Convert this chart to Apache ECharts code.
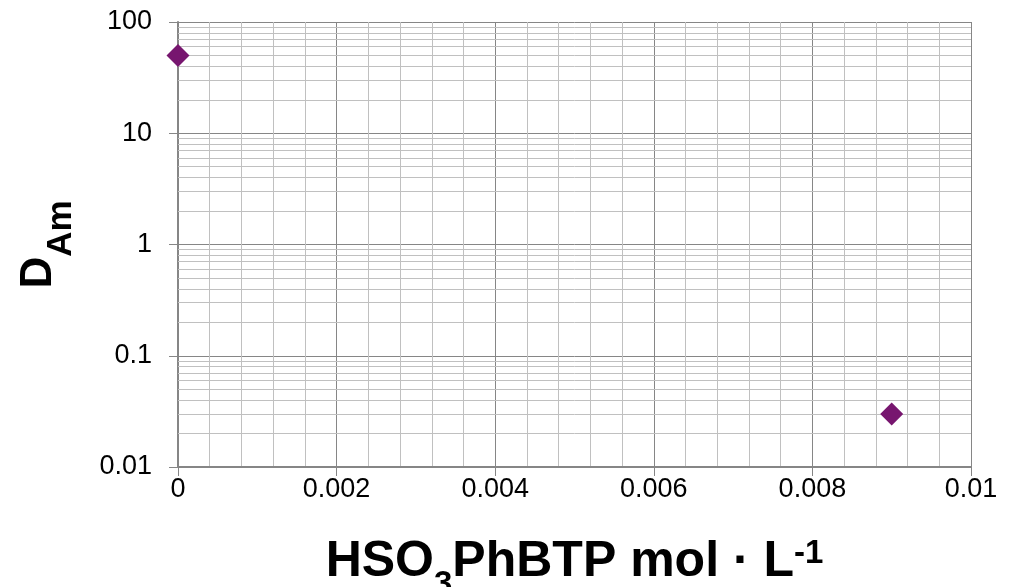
<!DOCTYPE html>
<html><head><meta charset="utf-8">
<script src="https://cdn.jsdelivr.net/npm/echarts@6/dist/echarts.min.js"></script>
<style>html,body{margin:0;padding:0;background:#fff}#c{width:1015px;height:587px}</style>
</head><body><div id="c"></div>
<script>
// ---- data ----
const xValues = [0, 0.009];
const yValues = [50, 0.03];
const xTickLabels = ['0', '0.002', '0.004', '0.006', '0.008', '0.01'];
const yTickLabels = ['0.01', '0.1', '1', '10', '100'];
const yDecades = [0.01, 0.1, 1, 10];
const yMinorSteps = [2, 3, 4, 5, 6, 7, 8, 9];

const points = xValues.map((x, i) => [x, yValues[i]]);
const yMinorGrid = [];
yDecades.forEach(d => yMinorSteps.forEach(m => yMinorGrid.push(+(d * m).toPrecision(3))));

const FONT = '"Liberation Sans", Arial, sans-serif';
const chart = echarts.init(document.getElementById('c'), null, {renderer: 'canvas'});
const option = {
  backgroundColor: '#fff',
  animation: false,
  grid: {left: 178, right: 44, top: 22, bottom: 120, containLabel: false, outerBoundsMode: 'none'},
  xAxis: {
    type: 'value', min: 0, max: 0.01, interval: 0.002,
    axisLine: {show: true, onZero: false, lineStyle: {color: '#868686', width: 2}},
    axisTick: {show: true, length: 9, lineStyle: {color: '#868686', width: 1}},
    axisLabel: {margin: 9, fontSize: 27, color: '#000', fontFamily: FONT,
      formatter: (v, i) => xTickLabels[i]},
    splitLine: {show: true, lineStyle: {color: '#868686', width: 1}},
    minorTick: {show: false, splitNumber: 5},
    minorSplitLine: {show: true, lineStyle: {color: '#c0c0c0', width: 1}},
    name: '{b|HSO}{sub|3}{b|PhBTP mol · L}{sup|-1}',
    nameLocation: 'middle', nameGap: 70,
    nameTextStyle: {
      rich: {
        b: {fontSize: 50, fontWeight: 'bold', fontFamily: FONT, color: '#000', lineHeight: 56, verticalAlign: 'top'},
        sub: {fontSize: 33, fontWeight: 'bold', fontFamily: FONT, color: '#000', lineHeight: 33, verticalAlign: 'top', padding: [31, 0, 0, 0]},
        sup: {fontSize: 33, fontWeight: 'bold', fontFamily: FONT, color: '#000', lineHeight: 33, verticalAlign: 'top', padding: [0, 0, 0, 0]}
      }
    }
  },
  yAxis: {
    type: 'log', logBase: 10, min: 0.01, max: 100,
    axisLine: {show: true, lineStyle: {color: '#868686', width: 2}},
    axisTick: {show: true, length: 9, lineStyle: {color: '#868686', width: 1}},
    axisLabel: {margin: 26, fontSize: 27, color: '#000', fontFamily: FONT,
      formatter: (v, i) => yTickLabels[i]},
    splitLine: {show: true, lineStyle: {color: '#868686', width: 1}},
    name: '{d|D}{s|Am}',
    nameLocation: 'middle', nameRotate: 90, nameGap: 111,
    nameTextStyle: {
      rich: {
        d: {fontSize: 44, fontWeight: 'bold', fontFamily: FONT, color: '#000', lineHeight: 50, verticalAlign: 'top'},
        s: {fontSize: 35, fontWeight: 'bold', fontFamily: FONT, color: '#000', lineHeight: 35, verticalAlign: 'top', padding: [27, 0, 0, 0]}
      }
    }
  },
  series: [
    {
      type: 'scatter', data: [], z: -1, silent: true,
      markLine: {
        silent: true, symbol: ['none', 'none'], animation: false,
        label: {show: false},
        lineStyle: {type: 'solid', color: '#c0c0c0', width: 1},
        data: yMinorGrid.map(v => ({yAxis: v}))
      }
    },
    {
      type: 'scatter', data: points, symbol: 'diamond', symbolSize: 23,
      itemStyle: {color: '#77166F', opacity: 1}, z: 5
    }
  ]
};
chart.setOption(option);
</script></body></html>
